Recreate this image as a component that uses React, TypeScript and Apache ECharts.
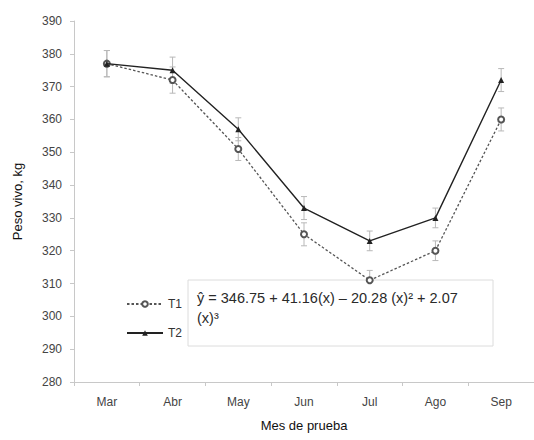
import React, { useEffect, useRef } from "react";
import * as echarts from "echarts";

const months = ["Mar", "Abr", "May", "Jun", "Jul", "Ago", "Sep"];
const t1Values = [377, 372, 351, 325, 311, 320, 360];
const t2Values = [377, 375, 357, 333, 323, 330, 372];
const t1Err = [4, 4, 3.5, 3.5, 3, 3, 3.5];
const t2Err = [4, 4, 3.5, 3.5, 3, 3, 3.5];
const yTicks = { min: 280, max: 390, interval: 10 };
const equationLine1 = "ŷ = 346.75 + 41.16(x) – 20.28 (x)² + 2.07";
const equationLine2 = "(x)³";

const FONT = "Liberation Sans, Arial, sans-serif";

export default function App() {
  const ref = useRef<HTMLDivElement>(null);
  useEffect(() => {
    document.body.style.margin = "0";
    const chart = echarts.init(ref.current!, null, { renderer: "svg" });
    const errData = (vals: number[], errs: number[]) =>
      vals.map((v, i) => [i, v - errs[i], v + errs[i]]);
    const renderErr = (params: any, api: any) => {
      const x = api.value(0);
      const lo = api.coord([x, api.value(1)]);
      const hi = api.coord([x, api.value(2)]);
      const cap = 3;
      const style = { stroke: "#b8b8b8", lineWidth: 1 };
      return {
        type: "group",
        children: [
          { type: "line", shape: { x1: hi[0], y1: hi[1], x2: lo[0], y2: lo[1] }, style },
          { type: "line", shape: { x1: hi[0] - cap, y1: hi[1], x2: hi[0] + cap, y2: hi[1] }, style },
          { type: "line", shape: { x1: lo[0] - cap, y1: lo[1], x2: lo[0] + cap, y2: lo[1] }, style },
        ],
      };
    };
    chart.setOption({
      animation: false,
      textStyle: { fontFamily: FONT },
      grid: { left: 74, top: 21, bottom: 58, right: -11 },
      legend: {
        orient: "vertical",
        left: 121,
        top: 293,
        itemWidth: 36,
        itemHeight: 7,
        itemGap: 17,
        textStyle: { fontSize: 12, color: "#333", fontFamily: FONT },
        data: ["T1", "T2"],
      },
      xAxis: {
        type: "category",
        data: months,
        boundaryGap: true,
        name: "Mes de prueba",
        nameLocation: "middle",
        nameGap: 37,
        nameTextStyle: { fontSize: 13, color: "#111", fontFamily: FONT },
        axisLine: { lineStyle: { color: "#c8c8c8" } },
        axisTick: { show: true, length: 4, lineStyle: { color: "#c8c8c8" } },
        axisLabel: { fontSize: 12, color: "#444", margin: 14, fontFamily: FONT },
        splitLine: { show: false },
      },
      yAxis: {
        type: "value",
        min: yTicks.min,
        max: yTicks.max,
        interval: yTicks.interval,
        name: "Peso vivo, kg",
        nameLocation: "middle",
        nameGap: 50,
        nameRotate: 90,
        nameTextStyle: { fontSize: 13, color: "#111", fontFamily: FONT },
        axisLine: { show: true, lineStyle: { color: "#c8c8c8" } },
        axisTick: { show: true, length: 4, lineStyle: { color: "#c8c8c8" } },
        axisLabel: { fontSize: 12, color: "#444", margin: 12, fontFamily: FONT },
        splitLine: { show: false },
      },
      series: [
        {
          type: "custom",
          name: "errT1",
          data: errData(t1Values, t1Err),
          renderItem: renderErr,
          z: 1,
          silent: true,
        },
        {
          type: "custom",
          name: "errT2",
          data: errData(t2Values, t2Err),
          renderItem: renderErr,
          z: 1,
          silent: true,
        },
        {
          type: "line",
          name: "T1",
          data: t1Values,
          symbol: "emptyCircle",
          symbolSize: 6,
          lineStyle: { color: "#555", width: 1.3, type: [2.5, 2] },
          itemStyle: { color: "#555", borderWidth: 1 },
          z: 3,
        },
        {
          type: "line",
          name: "T2",
          data: t2Values,
          symbol: "triangle",
          symbolSize: 6,
          lineStyle: { color: "#222", width: 1.4 },
          itemStyle: { color: "#222" },
          z: 4,
        },
      ],
      graphic: [
        {
          type: "rect",
          shape: { x: 188, y: 280, width: 305, height: 66 },
          style: { fill: "#fff", stroke: "#dcdcdc", lineWidth: 1 },
          z: 2,
        },
        {
          type: "text",
          x: 197,
          y: 288,
          style: {
            text: equationLine1 + "\n" + equationLine2,
            fontSize: 14.5,
            lineHeight: 20,
            fill: "#2a2a2a",
            fontFamily: FONT,
          },
          z: 3,
        },
      ],
    });
    return () => chart.dispose();
  }, []);
  return <div ref={ref} style={{ width: 534, height: 440 }} />;
}
